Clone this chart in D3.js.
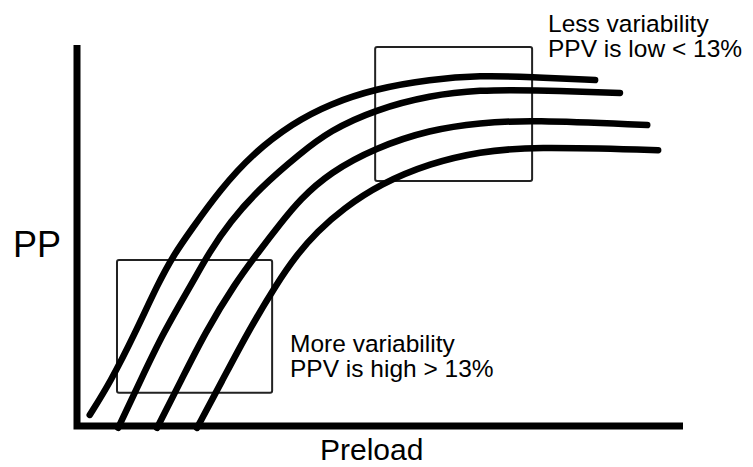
<!DOCTYPE html>
<html>
<head>
<meta charset="utf-8">
<script src="https://cdn.jsdelivr.net/npm/d3@7"></script>
<style>
  html, body { margin: 0; padding: 0; background: #fff; }
  svg { display: block; }
  text { font-family: "Liberation Sans", Arial, sans-serif; fill: #000; }
</style>
</head>
<body>
<svg id="chart" width="753" height="467"></svg>
<script>
// Conceptual curves: preload (x, 0-100) vs pulse pressure (y, 0-100)
const curve1 = [[2.1,2.9],[5.5,11.5],[9.6,24.4],[13.4,37.5],[16.0,45.0],[18.8,51.4],[23.6,62.0],[29.0,71.5],[35.6,79.5],[41.7,84.5],[49.2,88.5],[58.3,91.0],[66.5,92.0],[74.8,91.6],[85.5,90.8]];
const curve2 = [[6.8,-0.5],[10.5,12.0],[14.2,24.4],[19.0,37.5],[21.8,45.5],[25.2,53.5],[30.2,62.5],[36.8,71.5],[41.7,77.5],[49.2,83.0],[58.3,86.8],[66.5,88.2],[74.8,88.2],[89.6,87.4]];
const curve3 = [[13.2,-0.5],[17.2,12.0],[21.1,24.4],[26.1,37.5],[30.2,46.2],[33.5,53.0],[36.8,59.5],[41.7,66.5],[49.2,73.0],[58.3,77.8],[66.5,79.6],[74.8,80.3],[94.1,79.0]];
const curve4 = [[19.8,-0.5],[24.0,12.0],[28.1,24.4],[33.0,37.5],[36.3,45.0],[39.6,51.0],[43.9,57.0],[50.0,63.5],[58.3,69.0],[66.5,72.0],[74.8,73.3],[95.9,72.4]];
const curves = [curve1, curve2, curve3, curve4];

// Highlight boxes: [x0, x1, y0, y1] in data units
const boxLow = [6.6, 32.2, 8.7, 43.6];
const boxHigh = [49.2, 75.1, 64.3, 99.5];

const labelLow = ["More variability", "PPV is high > 13%"];
const labelHigh = ["Less variability", "PPV is low < 13%"];
const xTitle = "Preload";
const yTitle = "PP";

const svg = d3.select("#chart");
const x = d3.scaleLinear().domain([0, 100]).range([77, 683]);
const y = d3.scaleLinear().domain([0, 100]).range([426, 45]);

// Axes (bare lines, no ticks)
svg.append("path")
  .attr("d", d3.line()([[x(0), y(100)], [x(0), y(0)], [x(100), y(0)]]))
  .attr("fill", "none")
  .attr("stroke", "#000")
  .attr("stroke-width", 7)
  .attr("stroke-linejoin", "miter");

// Boxes
[boxLow, boxHigh].forEach(b => {
  svg.append("rect")
    .attr("x", x(b[0]))
    .attr("y", y(b[3]))
    .attr("width", x(b[1]) - x(b[0]))
    .attr("height", y(b[2]) - y(b[3]))
    .attr("rx", 2)
    .attr("fill", "none")
    .attr("stroke", "#222")
    .attr("stroke-width", 2);
});

// Curves
const line = d3.line()
  .x(d => x(d[0]))
  .y(d => y(d[1]))
  .curve(d3.curveBasis);

svg.selectAll("path.curve")
  .data(curves)
  .join("path")
  .attr("class", "curve")
  .attr("d", line)
  .attr("fill", "none")
  .attr("stroke", "#000")
  .attr("stroke-width", 6.5)
  .attr("stroke-linecap", "round");

// Labels
svg.append("text").attr("x", 13).attr("y", 257)
  .attr("font-size", 36).text(yTitle);
svg.append("text").attr("x", 320).attr("y", 460)
  .attr("font-size", 30).text(xTitle);

labelHigh.forEach((t, i) => {
  svg.append("text").attr("x", 548).attr("y", 32 + i * 25)
    .attr("font-size", 24.5).text(t);
});
labelLow.forEach((t, i) => {
  svg.append("text").attr("x", 290).attr("y", 352 + i * 25)
    .attr("font-size", 24.5).text(t);
});
</script>
</body>
</html>
